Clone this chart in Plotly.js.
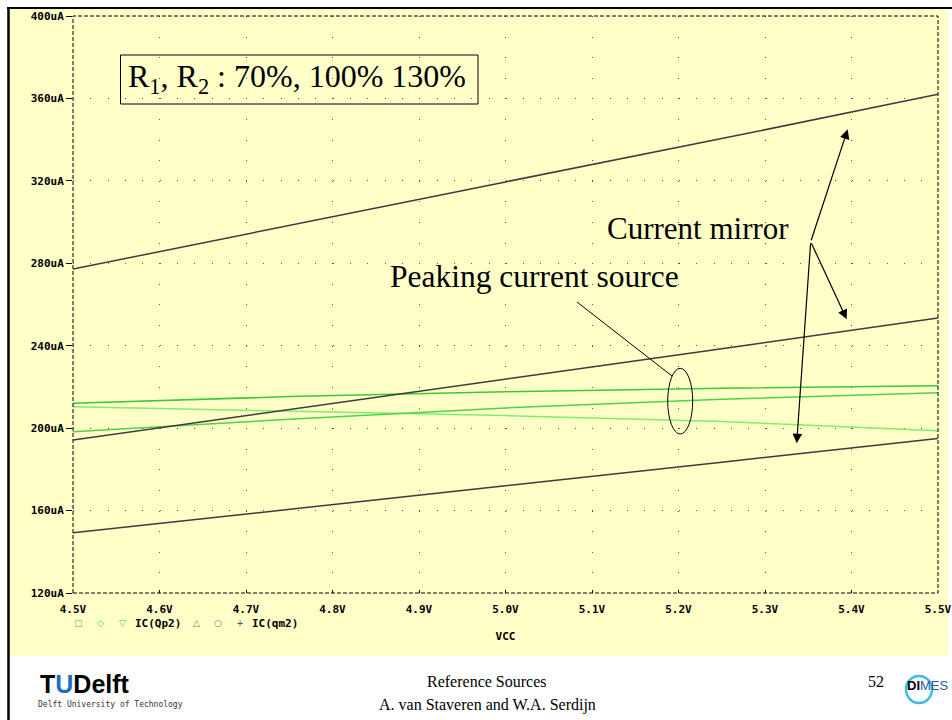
<!DOCTYPE html>
<html><head><meta charset="utf-8">
<script src="https://cdn.plot.ly/plotly-3.0.1.min.js"></script>
<style>html,body{margin:0;padding:0;background:#fff;}#chart{width:952px;height:720px;}</style>
</head><body><div id="chart"></div>
<script>
// ---- data (uA vs VCC in V) ----
const vcc = [4.5, 4.75, 5.0, 5.25, 5.5];
const icQp2_a = [212.1, 215.3, 217.7, 219.4, 220.6];
const icQp2_b = [210.4, 208.4, 206.1, 203.2, 198.7];
const icQp2_c = [198.3, 204.3, 209.8, 214.0, 217.2];
const icQm2_130 = [277.2, 298.5, 319.5, 340.5, 362.0];
const icQm2_100 = [194.3, 209.0, 223.5, 238.5, 253.5];
const icQm2_70 = [149.2, 160.5, 172.0, 183.5, 195.0];
const xTickVals = [4.5, 4.6, 4.7, 4.8, 4.9, 5.0, 5.1, 5.2, 5.3, 5.4, 5.5];
const xTickText = ['4.5V','4.6V','4.7V','4.8V','4.9V','5.0V','5.1V','5.2V','5.3V','5.4V','5.5V'];
const yTickVals = [120, 160, 200, 240, 280, 320, 360, 400];
const yTickText = ['120uA','160uA','200uA','240uA','280uA','320uA','360uA','400uA'];

// ---- layout helpers (page pixel -> paper) ----
const L = 73, R = 938, T = 16, B = 593;
const px = p => (p - L) / (R - L);
const py = p => (B - p) / (B - T);

const mono = 'DejaVu Sans Mono, monospace';
const serif = 'Liberation Serif, Times New Roman, serif';
const black = 'rgb(60,60,60)';

function tr(y, color, name) {
  return {x: vcc, y: y, type: 'scatter', mode: 'lines', name: name,
          line: {color: color, width: 1.5}, showlegend: false, hoverinfo: 'skip'};
}
const data = [
  tr(icQp2_a, '#3cc83c', 'IC(Qp2) 70%'),
  tr(icQp2_b, '#80ec72', 'IC(Qp2) 100%'),
  tr(icQp2_c, '#4ed24e', 'IC(Qp2) 130%'),
  tr(icQm2_130, black, 'IC(qm2) 130%'),
  tr(icQm2_100, black, 'IC(qm2) 100%'),
  tr(icQm2_70, black, 'IC(qm2) 70%')
];

const shapes = [
  {type:'rect', xref:'paper', yref:'paper', x0:px(9), x1:px(948), y0:py(656), y1:py(9), layer:'below', fillcolor:'#ffffc8', line:{width:0}},
  {type:'line', xref:'paper', yref:'paper', x0:px(7), x1:px(952), y0:py(8), y1:py(8), line:{color:'#000', width:2}},
  {type:'line', xref:'paper', yref:'paper', x0:px(8.5), x1:px(8.5), y0:py(7), y1:py(720), line:{color:'#000', width:2.5}},
  {type:'rect', xref:'paper', yref:'paper', x0:0, x1:1, y0:0, y1:1, line:{color:'#000', width:1, dash:'4px,2px'}},
  {type:'rect', xref:'paper', yref:'paper', x0:px(120.5), x1:px(478), y0:py(104), y1:py(55), line:{color:'#000', width:1}},
  {type:'line', xref:'paper', yref:'paper', x0:px(577), x1:px(672), y0:py(302), y1:py(376), line:{color:'#000', width:1}},
  {type:'circle', xref:'paper', yref:'paper', x0:px(667.7), x1:px(692.7), y0:py(434), y1:py(368.3), line:{color:'#000', width:1}},
  {type:'circle', xref:'paper', yref:'paper', x0:px(906), x1:px(932), y0:py(703), y1:py(676), line:{color:'#3cbce8', width:2.5}}
];

function txt(x, y, text, size, family, color, extra) {
  return Object.assign({xref:'paper', yref:'paper', x:px(x), y:py(y), text:text, showarrow:false,
    xanchor:'center', yanchor:'middle', font:{size:size, family:family, color:color || '#000'}}, extra || {});
}
function arrow(x0, y0, x1, y1) {
  return {xref:'paper', yref:'paper', x:px(x1), y:py(y1), ax:x0 - x1, ay:y0 - y1, axref:'pixel', ayref:'pixel',
    text:'', showarrow:true, arrowhead:2, arrowsize:1.6, arrowwidth:1.2, arrowcolor:'#000', standoff:0, startstandoff:0};
}
const legFont = {family: mono, size: 11, weight: 'bold', color: '#000'};
const annotations = [
  txt(297, 79, 'R<sub>1</sub>, R<sub>2</sub> : 70%, 100% 130%', 32, serif),
  txt(698, 228, 'Current mirror', 31, serif),
  txt(534, 276, 'Peaking current source', 31.5, serif),
  arrow(810.7, 241.7, 847.7, 129.3),
  arrow(810.7, 241.7, 846.7, 319.3),
  arrow(810.7, 241.7, 796.7, 443.3),
  txt(78.3, 623, '□', 9, 'DejaVu Sans', '#44cc44'),
  txt(100, 623, '◇', 9, 'DejaVu Sans', '#44cc44'),
  txt(122.7, 623, '▽', 9, 'DejaVu Sans', '#44cc44'),
  Object.assign(txt(158, 623, 'IC(Qp2)', 11, mono), {font: legFont}),
  txt(196, 623, '△', 9, 'DejaVu Sans', '#777'),
  txt(218.3, 623, '○', 9, 'DejaVu Sans', '#777'),
  txt(240, 623, '+', 10, mono, '#555'),
  Object.assign(txt(275.3, 623, 'IC(qm2)', 11, mono), {font: legFont}),
  Object.assign(txt(85, 684, 'T<span style="color:#1a6fc0">U</span>Delft', 25, 'Liberation Sans, Arial, sans-serif'), {font:{size:25, family:'Liberation Sans, Arial, sans-serif', weight:'bold', color:'#000'}}),
  txt(110, 704, 'Delft University of Technology', 8, mono, '#333'),
  txt(487, 681, 'Reference Sources', 16, serif),
  txt(487, 705, 'A. van Staveren and W.A. Serdijn', 16, serif),
  txt(876, 681, '52', 16, serif),
  txt(928, 685, '<b>DI</b><span style="color:#2a5d9a">MES</span>', 13, 'Liberation Sans, Arial, sans-serif')
];

const layout = {
  width: 952, height: 720,
  margin: {l: L, r: 952 - R, t: T, b: 720 - B, pad: 0},
  paper_bgcolor: '#ffffff',
  plot_bgcolor: 'rgba(0,0,0,0)',
  showlegend: false,
  xaxis: {
    range: [4.5, 5.5], autorange: false, tickvals: xTickVals, ticktext: xTickText,
    ticks: 'inside', ticklen: 3, tickcolor: '#000', ticklabelstandoff: 8,
    tickfont: {family: mono, size: 11, weight: 'bold', color: '#000'},
    showline: false, zeroline: false, showgrid: true,
    gridcolor: '#555', gridwidth: 1, griddash: '1px,19.607px',
    title: {text: 'VCC', font: {family: mono, size: 11, weight: 'bold', color: '#000'}, standoff: 17}
  },
  yaxis: {
    range: [120, 400], autorange: false, tickvals: yTickVals, ticktext: yTickText,
    ticks: 'outside', ticklen: 6, tickcolor: '#000',
    tickfont: {family: mono, size: 11, weight: 'bold', color: '#000'},
    showline: false, zeroline: false, showgrid: true,
    gridcolor: '#555', gridwidth: 1, griddash: '1px,16.314px'
  },
  shapes: shapes,
  annotations: annotations
};

Plotly.newPlot('chart', data, layout, {staticPlot: true, displayModeBar: false});
</script>
</body></html>
